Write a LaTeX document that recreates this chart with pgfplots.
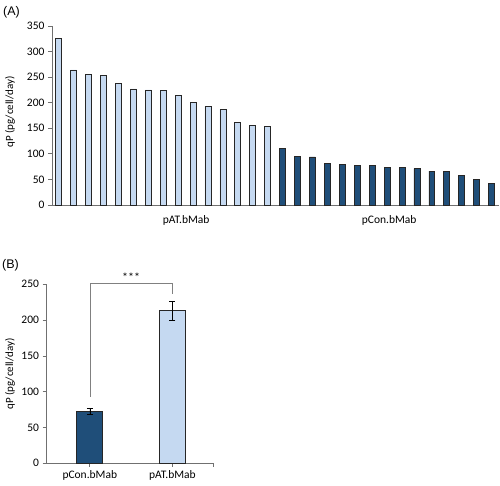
\documentclass[border=0pt]{standalone}
\usepackage{pgfplots}
\pgfplotsset{compat=1.18}
\usepackage{fontspec}
\setmainfont{Carlito}
\newfontfamily\arialfont{Liberation Sans}
\definecolor{lightbar}{HTML}{C5D9F1}
\definecolor{darkbar}{HTML}{1F4E79}
\definecolor{axgray}{HTML}{707070}
\definecolor{edge}{HTML}{262626}
\begin{document}
\begin{tikzpicture}
\path[use as bounding box] (0,0) rectangle (500pt,485pt);
\pgfplotsset{
  myaxis/.style={
    scale only axis,
    anchor=south west,
    axis x line=bottom, axis y line=left,
    axis line style={-, axgray, line width=0.8pt},
    tick style={axgray, line width=0.8pt},
    tick align=outside,
    /pgf/number format/assume math mode=true,
    ticklabel style={font=\fontsize{11.5}{13}\selectfont, black},
    ymin=0,
    clip=false,
  }
}
% ---------- Panel A ----------
\begin{axis}[myaxis,
  at={(52pt,280pt)}, width=447pt, height=179pt,
  xmin=-0.45, xmax=29.5, ymax=350,
  ytick={0,50,...,350}, major tick length=4pt,
  xtick={8.54,22.14}, xticklabels={pAT.bMab,pCon.bMab},
  xtick style={draw=none},
  xticklabel style={yshift=-3pt},
  ybar, bar width=0.4,
]
\addplot[bar shift=0pt, fill=lightbar, draw=edge, line width=0.7pt] coordinates {
(0,325) (1,264) (2,256) (3,254) (4,238) (5,227) (6,225) (7,224) (8,215) (9,201)
(10,193) (11,187) (12,162) (13,156) (14,154)};
\addplot[bar shift=0pt, fill=darkbar, draw=edge, line width=0.7pt] coordinates {
(15,110) (16,94.5) (17,94) (18,82) (19,79.5) (20,78) (21,77.5) (22,73.5) (23,73)
(24,71) (25,66) (26,66) (27,58.5) (28,49.5) (29,42.5)};
\end{axis}
% ---------- Panel B ----------
\begin{axis}[myaxis,
  at={(46pt,21.7pt)}, width=167pt, height=179pt,
  xmin=0.47, xmax=2.49, ymax=250,
  ytick={0,50,...,250}, major tick length=3.5pt,
  xtick={1,2}, xticklabels={pCon.bMab,pAT.bMab},
  extra x ticks={2.49}, extra x tick labels={},
  ybar, bar width=0.314,
]
\addplot[bar shift=0pt, fill=darkbar, draw=edge, line width=0.7pt,
  error bars/.cd, y dir=both, y explicit,
  error bar style={black, line width=0.6pt},
  error mark options={black, line width=0.6pt, mark size=3pt, rotate=90}]
  coordinates {(1,73) +- (0,4.3)};
\addplot[bar shift=0pt, fill=lightbar, draw=edge, line width=0.7pt,
  error bars/.cd, y dir=both, y explicit,
  error bar style={black, line width=0.6pt},
  error mark options={black, line width=0.6pt, mark size=3pt, rotate=90}]
  coordinates {(2,213) +- (0,13)};
\draw[gray, line width=0.6pt] (axis cs:1,93) -- (axis cs:1,252) -- (axis cs:2,252) -- (axis cs:2,236);
\node[font=\fontsize{12}{13}\selectfont, anchor=south, inner sep=1pt] at (axis cs:1.5,252) {***};
\end{axis}
% ---------- labels ----------
\node[rotate=90, font=\fontsize{11}{12}\selectfont] at (10pt,373pt) {qP (pg/cell/day)};
\node[rotate=90, font=\fontsize{11}{12}\selectfont] at (10pt,111pt) {qP (pg/cell/day)};
\node[font=\arialfont\fontsize{12.5}{14}\selectfont, anchor=west, inner sep=0pt] at (3pt,473pt) {(A)};
\node[font=\arialfont\fontsize{12.5}{14}\selectfont, anchor=west, inner sep=0pt] at (2pt,220pt) {(B)};
\end{tikzpicture}
\end{document}
